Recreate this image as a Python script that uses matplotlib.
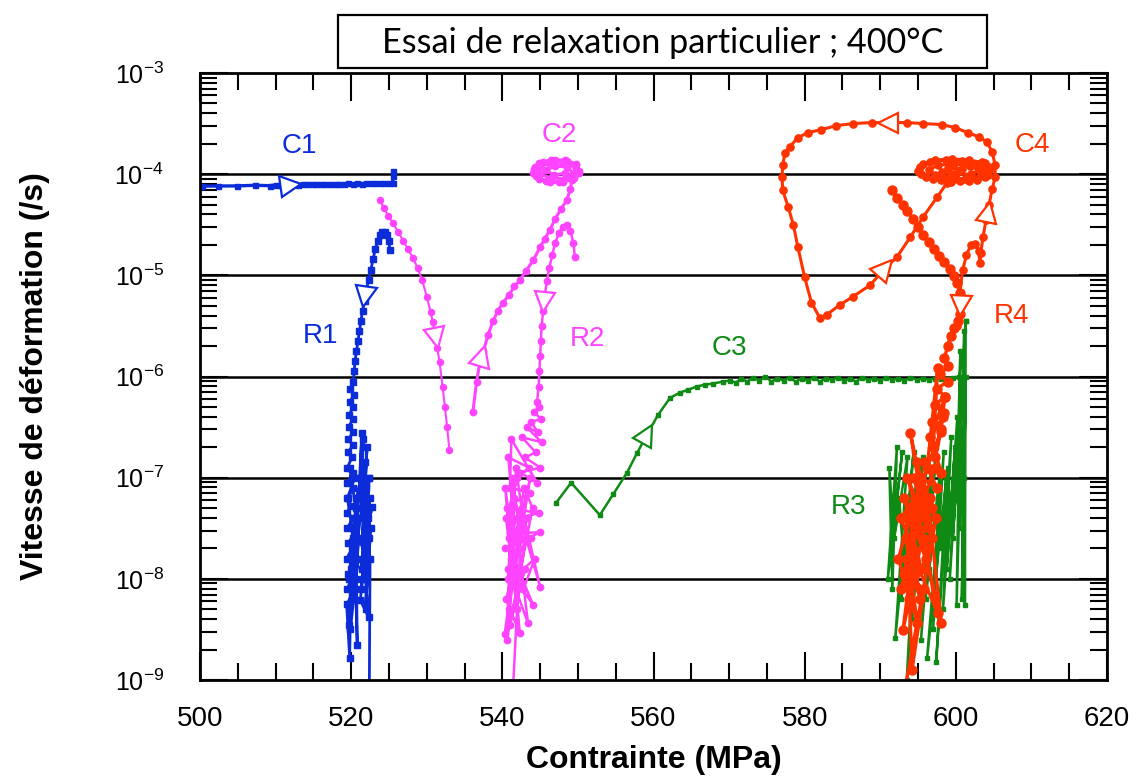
import numpy as np
import matplotlib
matplotlib.use('Agg')
import matplotlib.pyplot as plt
from matplotlib.markers import MarkerStyle
from matplotlib.transforms import Affine2D
from matplotlib.ticker import MultipleLocator, LogLocator, NullFormatter
from matplotlib.patches import Rectangle

plt.rcParams['font.family'] = ['Liberation Sans', 'DejaVu Sans']
plt.rcParams['mathtext.fontset'] = 'custom'
plt.rcParams['mathtext.rm'] = 'Liberation Sans'
plt.rcParams['mathtext.it'] = 'Liberation Sans:italic'
plt.rcParams['mathtext.bf'] = 'Liberation Sans:bold'

# ---------------- data (stress MPa, log10 strain rate) ----------------
c1_x = [500.0, 500.3, 502.4, 504.9, 507.3, 509.3, 510.0, 510.6, 511.2, 511.8, 512.4, 513.0,
        513.6, 514.2, 514.8, 515.4, 516.0, 516.6, 517.2, 517.8, 518.4, 519.0, 519.6, 520.2,
        520.8, 521.4, 522.0, 522.6, 523.2, 523.8, 524.4, 525.0, 525.5, 525.5, 525.6]
c1_log = [-4.118, -4.118, -4.117, -4.116, -4.110, -4.114, -4.105, -4.110, -4.103, -4.106,
          -4.100, -4.104, -4.099, -4.102, -4.097, -4.100, -4.096, -4.099, -4.094, -4.097,
          -4.093, -4.096, -4.092, -4.094, -4.090, -4.093, -4.089, -4.092, -4.088, -4.091,
          -4.087, -4.089, -4.088, -4.02, -3.97]

r1_x = [525.1, 525.0, 524.8, 524.5, 524.1, 523.8, 523.5, 523.2, 522.9, 522.6, 522.3, 522.0,
        521.8, 521.5, 521.3, 521.1, 520.9, 520.7, 520.5, 520.4, 520.3,
        519.9, 520.4, 519.8, 520.3, 519.7, 520.2, 519.7, 520.3, 519.6, 520.2, 519.6, 520.1,
        519.5, 520.2, 519.5, 520.3, 519.6, 520.0, 519.4, 520.2, 519.5, 520.4, 519.6, 520.1,
        519.4, 520.3, 519.6, 520.0, 519.5, 520.2, 519.4, 519.8, 520.0, 519.7, 520.3, 519.5,
        520.5, 519.8, 520.6, 520.8, 520.5, 521.0, 521.4, 521.2, 521.6, 521.3, 521.8, 521.5,
        522.1, 521.7, 522.0, 521.4, 522.3, 521.9, 522.5, 521.6, 522.2, 521.3, 522.7, 522.0,
        521.2, 522.3, 521.8, 522.4, 521.5, 522.6, 521.9, 522.1, 521.0, 520.6, 521.1, 520.4,
        520.9, 519.9, 520.5, 519.7, 520.7, 521.3, 522.0, 522.4, 521.7, 522.5, 522.4]
r1_log = [-4.75, -4.66, -4.60, -4.57, -4.57, -4.60, -4.66, -4.74, -4.84, -4.95, -5.05, -5.15,
          -5.25, -5.35, -5.45, -5.55, -5.65, -5.75, -5.85, -5.95, -6.05,
          -6.12, -6.18, -6.25, -6.30, -6.38, -6.42, -6.50, -6.55, -6.62, -6.68, -6.75, -6.80,
          -6.90, -6.95, -7.05, -7.10, -7.20, -7.28, -7.35, -7.40, -7.50, -7.55, -7.65, -7.70,
          -7.80, -7.85, -7.95, -8.00, -8.10, -8.15, -8.25, -8.78, -7.90, -8.46, -7.60, -7.20,
          -7.00, -6.90, -7.30, -8.65, -7.80, -7.20, -6.56, -7.00, -6.62, -7.40, -6.85, -7.60,
          -6.70, -7.30, -7.10, -7.90, -7.00, -7.50, -7.20, -7.84, -7.40, -8.10, -7.29, -7.70,
          -8.21, -8.38, -7.90, -7.60, -8.00, -7.50, -8.30, -7.80, -7.60, -8.00, -7.40, -8.20,
          -7.80, -8.50, -7.60, -8.00, -7.20, -7.00, -7.60, -7.00, -7.20, -7.80, -9.10]

c2a_x = [523.8, 524.3, 524.9, 525.5, 526.2, 526.9, 527.5, 528.2, 528.8, 529.4, 530.0, 530.5,
         530.8, 531.4, 531.7, 532.1, 532.4, 532.7, 533.0]
c2a_log = [-4.26, -4.33, -4.41, -4.48, -4.57, -4.66, -4.74, -4.83, -4.93, -5.05, -5.21, -5.36,
           -5.46, -5.72, -5.86, -6.10, -6.30, -6.50, -6.73]

c2b_x = [536.1, 536.6, 537.0, 537.5, 538.1, 538.8, 539.4, 540.1, 540.9, 541.6, 542.3, 543.1,
         544.1, 545.0, 545.6, 546.3, 547.0, 547.8, 548.5, 549.0, 549.2,
         549.9, 549.7, 548.6, 547.0, 545.4, 544.3, 544.1, 544.8, 546.3, 548.0, 549.5, 550.2,
         549.8, 548.3, 546.5, 544.9, 544.2, 544.5, 545.8, 547.5, 549.2, 550.1, 549.6, 548.0,
         546.2, 545.0, 545.0, 546.5, 548.4, 549.4, 548.6, 547.0, 545.8, 546.8, 548.3]
c2b_log = [-6.35, -6.05, -5.87, -5.75, -5.59, -5.45, -5.35, -5.27, -5.19, -5.11, -5.05, -4.96,
           -4.85, -4.72, -4.64, -4.55, -4.44, -4.34, -4.26, -4.15, -4.06,
           -3.99, -3.91, -3.87, -3.86, -3.88, -3.93, -3.99, -4.05, -4.08, -4.08, -4.04, -3.97,
           -3.90, -3.86, -3.86, -3.89, -3.95, -4.02, -4.07, -4.08, -4.05, -3.99, -3.92, -3.89,
           -3.89, -3.93, -4.00, -4.04, -4.04, -3.99, -3.93, -3.92, -3.96, -4.01, -3.99]

r2_x = [549.6, 549.4, 549.0, 548.5, 548.0, 547.5, 547.0, 546.6, 546.2, 545.9, 545.6, 545.4,
        545.2, 545.1, 545.0, 544.9, 544.8, 544.6,
        544.9, 544.2, 545.1, 543.8, 544.7, 543.2, 545.2, 542.6, 544.4, 543.0, 545.0, 542.4,
        544.6, 541.2, 541.0, 543.6, 540.6, 544.9, 542.0, 541.0, 545.0, 540.4, 543.8, 541.5,
        544.1, 540.8, 543.4, 542.2, 540.5, 542.3, 541.2, 541.0, 543.0, 540.3, 542.6, 545.0,
        541.6, 540.7, 543.2, 541.9, 540.9, 542.8, 544.3, 541.4, 540.5, 542.0, 543.5, 540.8,
        541.7, 542.9, 544.0, 540.6, 541.3, 542.4, 543.7, 541.1, 540.4, 542.1, 543.1, 541.8,
        540.9, 542.5, 541.4]
r2_log = [-4.82, -4.68, -4.56, -4.50, -4.52, -4.58, -4.68, -4.80, -4.93, -5.06, -5.20, -5.35,
          -5.50, -5.65, -5.80, -5.95, -6.10, -6.25,
          -6.30, -6.35, -6.42, -6.45, -6.55, -6.50, -6.65, -6.60, -6.75, -6.80, -6.90, -6.95,
          -7.05, -6.62, -7.10, -7.15, -7.30, -7.35, -7.40, -7.55, -7.54, -7.70, -7.60, -7.80,
          -8.26, -7.90, -8.44, -7.70, -8.20, -8.54, -7.50, -8.46, -7.90, -8.55, -7.30, -8.08,
          -7.20, -8.00, -7.40, -8.30, -7.60, -8.10, -7.80, -8.00, -7.40, -7.00, -6.90, -6.80,
          -7.60, -7.10, -7.30, -8.60, -7.00, -7.60, -7.00, -7.80, -7.10, -8.10, -7.60, -6.90,
          -8.30, -7.50, -9.10]

c3_x = [547.1, 549.1, 552.9, 554.7, 556.5, 557.8, 559.1, 560.6, 562.2, 563.5, 564.6, 565.7,
        566.8, 567.9, 569.2, 570.1, 570.9, 571.6, 572.4, 573.2, 574.0, 574.8, 575.6, 576.4,
        577.2, 578.0, 578.8, 579.6, 580.4, 581.2, 582.0, 582.8, 583.6, 584.4, 585.2, 586.0,
        586.8, 587.6, 588.4, 589.2, 590.0, 590.8, 591.6, 592.4, 593.2, 594.0, 594.8, 595.6,
        596.4, 597.2, 598.0, 598.8, 599.6, 600.4, 601.0, 601.3]
c3_log = [-7.25, -7.05, -7.37, -7.16, -6.95, -6.76, -6.58, -6.38, -6.21, -6.16, -6.13, -6.10,
          -6.08, -6.07, -6.05, -6.04, -6.06, -6.02, -6.05, -6.01, -6.04, -6.00, -6.05, -6.02,
          -6.04, -6.01, -6.05, -6.02, -6.04, -6.01, -6.05, -6.02, -6.03, -6.01, -6.04, -6.02,
          -6.05, -6.01, -6.03, -6.02, -6.04, -6.01, -6.03, -6.02, -6.04, -6.01, -6.03, -6.02,
          -6.03, -6.02, -6.02, -6.02, -6.01, -6.00, -5.80, -5.45]

r3_x = [601.3, 601.2, 601.1, 600.1, 600.6, 600.3, 600.9, 599.6, 600.7, 599.2, 600.2, 598.8,
        599.9, 598.3, 599.4, 597.4, 598.9, 596.2, 598.4, 597.0, 597.9, 596.0, 597.4, 595.4,
        596.8, 594.8, 596.2, 594.2, 595.6, 593.5, 595.0, 592.8, 594.4, 592.0, 593.6, 591.4,
        592.9, 591.0, 592.2, 591.6, 591.2, 591.8, 592.5, 593.2, 594.0, 594.9, 595.7, 596.5,
        597.3, 598.1, 598.7, 599.5, 600.0, 600.5, 601.0, 600.8, 601.3, 601.1]
r3_log = [-5.45, -8.26, -5.55, -8.26, -5.75, -6.60, -6.00, -7.60, -6.30, -8.00, -6.40, -7.90,
          -6.70, -8.30, -6.60, -8.82, -6.90, -8.78, -6.75, -8.50, -6.95, -8.20, -6.70, -8.60,
          -6.90, -7.80, -6.85, -8.40, -6.80, -9.00, -6.90, -8.20, -6.75, -8.58, -6.80, -7.80,
          -6.75, -8.00, -6.70, -8.10, -6.90, -7.60, -7.20, -7.90, -7.30, -7.80, -7.40, -7.90,
          -7.30, -7.70, -7.00, -7.40, -6.90, -7.50, -6.50, -8.20, -6.00, -7.00]

c4_x = [600.2, 600.5, 600.9, 601.4, 602.0, 602.6, 603.0, 603.2, 603.3, 603.6, 604.0, 604.4,
        604.8, 605.2, 605.2, 604.8, 604.1, 603.0, 601.6, 599.9, 598.2, 595.7, 593.5, 588.9,
        586.4, 584.2, 582.2, 580.4, 579.1, 578.0, 577.4, 577.1, 577.0, 577.1, 577.8, 578.5,
        579.1, 580.0, 580.9, 582.0, 582.9, 584.7, 586.4, 588.6, 590.8, 592.2, 594.0, 595.7,
        597.5, 598.8, 599.5,
        601.5, 603.5, 604.4, 604.2, 602.8, 600.5, 598.0, 596.0, 595.0, 595.6, 597.3, 599.5,
        601.8, 603.8, 604.5, 603.8, 601.8, 599.3, 597.0, 595.4, 595.2, 596.6, 598.7, 600.8,
        602.9, 604.0, 603.2, 601.2, 599.0, 597.2, 596.4, 597.6, 599.8, 601.9, 603.0, 602.0,
        600.0, 598.2, 599.0, 600.8]
c4_log = [-5.50, -5.20, -4.95, -4.80, -4.70, -4.69, -4.76, -4.88, -4.78, -4.62, -4.45, -4.30,
          -4.15, -4.03, -3.91, -3.78, -3.68, -3.63, -3.59, -3.54, -3.51, -3.50, -3.49, -3.49,
          -3.50, -3.52, -3.56, -3.59, -3.64, -3.73, -3.79, -3.91, -4.03, -4.16, -4.32, -4.50,
          -4.72, -5.02, -5.27, -5.42, -5.39, -5.29, -5.21, -5.10, -4.92, -4.82, -4.62, -4.42,
          -4.23, -4.09, -4.00,
          -3.89, -3.88, -3.93, -4.01, -4.06, -4.07, -4.06, -4.03, -3.97, -3.90, -3.86, -3.85,
          -3.86, -3.89, -3.95, -4.03, -4.07, -4.08, -4.05, -4.00, -3.93, -3.88, -3.86, -3.87,
          -3.90, -3.96, -4.02, -4.05, -4.04, -4.01, -3.96, -3.91, -3.90, -3.92, -3.96, -4.00,
          -4.00, -3.98, -3.94, -3.95]

r4_x = [591.5, 592.2, 593.0, 593.6, 594.3, 595.0, 595.7, 596.4, 597.1, 597.8, 598.5, 599.2,
        599.8, 600.2, 600.5, 600.7, 600.6, 600.3, 599.8, 599.3, 598.9, 598.5, 599.0, 597.9,
        598.9, 597.5, 598.6, 597.2, 598.4, 596.9, 598.0,
        598.3, 596.6, 598.6, 597.3, 598.0, 596.2, 597.6, 597.0, 598.1, 595.9, 597.5, 595.4,
        596.9, 594.8, 596.5, 594.0, 595.8, 593.6, 596.2, 593.2, 595.4, 592.7, 594.6, 592.4,
        594.9, 593.4, 597.6, 595.6, 598.1, 596.4, 593.0, 594.2, 592.8, 595.2, 593.8, 596.0,
        594.6, 593.2, 595.8, 594.2, 593.5, 596.6, 595.0, 597.2, 594.0, 595.3, 593.6, 596.8,
        594.4, 597.4, 593.0]
r4_log = [-4.16, -4.24, -4.30, -4.36, -4.44, -4.52, -4.60, -4.67, -4.74, -4.81, -4.87, -4.94,
          -5.01, -5.08, -5.17, -5.27, -5.38, -5.45, -5.52, -5.60, -5.70, -5.82, -5.90, -5.98,
          -6.05, -6.12, -6.20, -6.28, -6.36, -6.45, -6.52,
          -6.40, -6.60, -6.20, -6.80, -6.55, -6.90, -5.92, -6.70, -6.95, -6.85, -7.10, -7.00,
          -7.30, -6.85, -7.50, -6.56, -7.40, -7.00, -7.70, -7.20, -7.90, -7.40, -7.20, -7.80,
          -8.44, -7.60, -8.34, -7.60, -8.44, -7.30, -8.51, -7.80, -8.10, -7.10, -8.20, -7.80,
          -7.50, -7.95, -8.10, -8.90, -7.40, -7.20, -7.00, -6.90, -7.60, -8.20, -7.80, -7.60,
          -7.00, -7.40, -9.20]

x_ticks = [500, 520, 540, 560, 580, 600, 620]
y_exps = [-9, -8, -7, -6, -5, -4, -3]
grid_exps = [-8, -7, -6, -5, -4]

BLUE = '#0b2cd8'
MAGENTA = '#ff44ff'
GREEN = '#0f8a14'
RED = '#ff3300'

# ---------------- figure ----------------
W, H = 1136, 778
fig = plt.figure(figsize=(W / 100, H / 100), dpi=100)
L, R, T, B = 200, 1107, 73, 680
ax = fig.add_axes([L / W, 1 - B / H, (R - L) / W, (B - T) / H])
ax.set_yscale('log')
ax.set_xlim(500, 620)
ax.set_ylim(1e-9, 1e-3)

for e in grid_exps:
    ax.axhline(10.0 ** e, color='black', lw=1.8, zorder=1)

def pw(v):
    return [10.0 ** t for t in v]

series = [
    (c1_x, c1_log, BLUE, 's', 3.6, 2.4),
    (r1_x, r1_log, BLUE, 's', 3.8, 2.0),
    (c2a_x, c2a_log, MAGENTA, 'o', 4.4, 1.5),
    (c2b_x, c2b_log, MAGENTA, 'o', 4.6, 2.2),
    (r2_x, r2_log, MAGENTA, 'o', 4.6, 1.8),
    (c3_x, c3_log, GREEN, 's', 3.2, 1.8),
    (r3_x, r3_log, GREEN, 's', 3.4, 1.8),
    (c4_x, c4_log, RED, 'o', 5.2, 2.2),
    (r4_x, r4_log, RED, 'o', 6.5, 2.4),
]
for xs, ls, col, mk, ms, lw in series:
    ax.plot(xs, pw(ls), color=col, marker=mk, ms=ms, mec=col, mfc=col, lw=lw, zorder=3)

def add_arrow(xs, ls, i, frac, color):
    p0 = ax.transData.transform((xs[i], 10.0 ** ls[i]))
    p1 = ax.transData.transform((xs[i + 1], 10.0 ** ls[i + 1]))
    pos = p0 + frac * (p1 - p0)
    ang = np.degrees(np.arctan2(p1[1] - p0[1], p1[0] - p0[0]))
    xd, yd = ax.transData.inverted().transform(pos)
    m = MarkerStyle('>', transform=Affine2D().rotate_deg(ang))
    ax.plot([xd], [yd], marker=m, ms=15, mfc='white', mec=color, mew=1.6,
            linestyle='none', zorder=5)

add_arrow(c1_x, c1_log, 9, 0.3, BLUE)
add_arrow(r1_x, r1_log, 11, 0.6, BLUE)
add_arrow(c2a_x, c2a_log, 12, 0.6, MAGENTA)
add_arrow(c2b_x, c2b_log, 2, 0.6, MAGENTA)
add_arrow(r2_x, r2_log, 10, 0.4, MAGENTA)
add_arrow(c3_x, c3_log, 6, 0.05, GREEN)
add_arrow(c4_x, c4_log, 10, 0.5, RED)
add_arrow(c4_x, c4_log, 22, 0.55, RED)
add_arrow(c4_x, c4_log, 43, 0.95, RED)
add_arrow(r4_x, r4_log, 15, 0.3, RED)

labels = [
    ('C1', 513.2, -3.72, BLUE), ('R1', 515.9, -5.60, BLUE),
    ('C2', 547.5, -3.61, MAGENTA), ('R2', 551.2, -5.63, MAGENTA),
    ('C3', 570.0, -5.72, GREEN), ('R3', 585.8, -7.29, GREEN),
    ('C4', 610.1, -3.71, RED), ('R4', 607.3, -5.40, RED),
]
for txt, lx, ly, col in labels:
    ax.text(lx, 10.0 ** ly, txt, color=col, fontsize=20, ha='center', va='center', zorder=6)

# ticks
ax.set_xticks(x_ticks)
ax.set_xticklabels([str(v) for v in x_ticks])
ax.xaxis.set_minor_locator(MultipleLocator(5))
ax.set_yticks([10.0 ** e for e in y_exps])
ax.set_yticklabels([r'$\mathregular{10^{%d}}$' % e for e in y_exps])
ax.yaxis.set_minor_locator(LogLocator(base=10, subs=range(2, 10), numticks=20))
ax.yaxis.set_minor_formatter(NullFormatter())
ax.tick_params(which='both', direction='in', top=True, bottom=True, left=True, right=True,
               width=1.5, color='black')
ax.tick_params(which='major', length=20)
ax.tick_params(which='minor', length=12)
ax.tick_params(axis='x', which='major', labelsize=20, pad=19)
ax.tick_params(axis='y', which='major', labelsize=18, pad=26)
for s in ax.spines.values():
    s.set_linewidth(2)
    s.set_zorder(7)

fig.text((L + R) / 2 / W, 1 - 760 / H, 'Contrainte (MPa)', ha='center', va='center',
         fontsize=23, fontweight='bold')
fig.text(35 / W, 1 - ((T + B) / 2) / H, 'Vitesse de déformation (/s)', ha='center', va='center',
         rotation=90, fontsize=23, fontweight='bold')

# title box
fig.patches.append(Rectangle((338 / W, 1 - 68 / H), 649 / W, 53 / H, transform=fig.transFigure,
                             fill=True, fc='white', ec='black', lw=1.6))
title = 'Essai de relaxation particulier ; 400°C'
tt = fig.text(662.5 / W, 1 - 53 / H, title, ha='center', va='baseline', fontsize=22,
              family=['Lato', 'DejaVu Sans'])
fig.canvas.draw()
wpx = tt.get_window_extent().width
tt.set_fontsize(22 * 560.0 / wpx)

fig.savefig('out.png', dpi=100)
